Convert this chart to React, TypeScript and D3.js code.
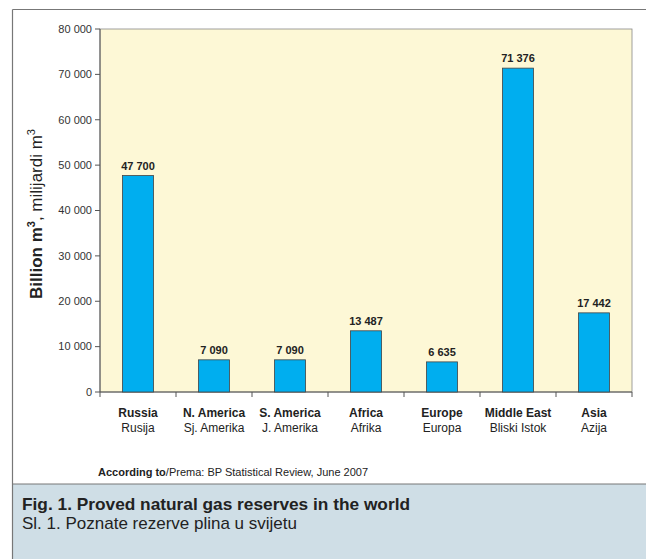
import React from "react";
import * as d3 from "d3";

const categories = ["Russia", "N. America", "S. America", "Africa", "Europe", "Middle East", "Asia"];
const subLabels = ["Rusija", "Sj. Amerika", "J. Amerika", "Afrika", "Europa", "Bliski Istok", "Azija"];
const values = [47700, 7090, 7090, 13487, 6635, 71376, 17442];
const valueLabels = ["47 700", "7 090", "7 090", "13 487", "6 635", "71 376", "17 442"];
const yTicks = [0, 10000, 20000, 30000, 40000, 50000, 60000, 70000, 80000];

const W = 646, H = 559;
const plot = { left: 100, right: 632, top: 29, bottom: 392 };
const narrow = "'Liberation Sans Narrow', 'Arial Narrow', 'Liberation Sans', Arial, sans-serif";
const sans = "'Liberation Sans', Arial, Helvetica, sans-serif";

export default function App() {
  const x = d3.scaleBand<string>().domain(categories).range([plot.left, plot.right]).paddingInner(0.59).paddingOuter(0.295);
  const xb = d3.scaleBand<string>().domain(categories).range([plot.left, plot.right]);
  const y = d3.scaleLinear().domain([0, 80000]).range([plot.bottom, plot.top]);
  const fmt = (v: number) => d3.format(",")(v).replace(/,/g, " ");

  return (
    <svg width={W} height={H} style={{ position: "absolute", left: 0, top: 0, background: "#fff" }}>
      <rect x={0} y={0} width={W} height={H} fill="#fff" />
      {/* caption box */}
      <rect x={12.5} y={484} width={W} height={H - 484} fill="#cfdee6" />
      <line x1={12.5} x2={W} y1={484} y2={484} stroke="#777" strokeWidth={1} />
      {/* outer border */}
      <line x1={12.5} x2={W} y1={9.5} y2={9.5} stroke="#777" strokeWidth={1.2} />
      <line x1={12.5} x2={12.5} y1={9.5} y2={H} stroke="#777" strokeWidth={1.2} />

      {/* plot background */}
      <rect x={plot.left} y={plot.top} width={plot.right - plot.left} height={plot.bottom - plot.top} fill="#fdf8d6" stroke="#888" strokeWidth={0.8} />

      {/* y axis */}
      <line x1={plot.left} x2={plot.left} y1={plot.top} y2={plot.bottom} stroke="#555" strokeWidth={1} />
      {yTicks.map((t) => (
        <g key={t}>
          <line x1={plot.left - 5} x2={plot.left} y1={y(t)} y2={y(t)} stroke="#555" strokeWidth={1} />
          <text x={plot.left - 8} y={y(t)} dy="0.35em" textAnchor="end" fontFamily={narrow} fontSize={11} fill="#333">
            {fmt(t)}
          </text>
        </g>
      ))}

      {/* x axis */}
      <line x1={plot.left} x2={plot.right} y1={plot.bottom} y2={plot.bottom} stroke="#555" strokeWidth={1} />
      {[...categories.map((c) => xb(c) as number), plot.right].map((px, i) => (
        <line key={i} x1={px} x2={px} y1={plot.bottom} y2={plot.bottom + 5} stroke="#555" strokeWidth={1} />
      ))}

      {/* bars */}
      {categories.map((c, i) => (
        <g key={c}>
          <rect x={x(c)} y={y(values[i])} width={x.bandwidth()} height={plot.bottom - y(values[i])} fill="#00aeef" stroke="#444" strokeWidth={0.8} />
          <text x={(x(c) as number) + x.bandwidth() / 2} y={y(values[i]) - 6} textAnchor="middle" fontFamily={narrow} fontWeight="bold" fontSize={11} fill="#222">
            {valueLabels[i]}
          </text>
          <text x={(xb(c) as number) + xb.bandwidth() / 2} y={417} textAnchor="middle" fontFamily={sans} fontWeight="bold" fontSize={12} fill="#222">
            {c}
          </text>
          <text x={(xb(c) as number) + xb.bandwidth() / 2} y={432} textAnchor="middle" fontFamily={sans} fontSize={12} fill="#222">
            {subLabels[i]}
          </text>
        </g>
      ))}

      {/* y axis title */}
      <text transform={`translate(42, 214) rotate(-90)`} textAnchor="middle" fontFamily={sans} fontSize={17} fill="#222">
        <tspan fontWeight="bold">Billion m</tspan>
        <tspan fontWeight="bold" fontSize={11} dy={-7}>3</tspan>
        <tspan dy={7}>, milijardi m</tspan>
        <tspan fontSize={11} dy={-7}>3</tspan>
      </text>

      {/* source */}
      <text x={98} y={476} fontFamily={narrow} fontSize={11} fill="#222">
        <tspan fontWeight="bold">According to</tspan>
        <tspan>/Prema: BP Statistical Review, June 2007</tspan>
      </text>

      {/* caption */}
      <text x={22} y={510} fontFamily={sans} fontWeight="bold" fontSize={17.3} fill="#222">
        Fig. 1. Proved natural gas reserves in the world
      </text>
      <text x={22} y={529} fontFamily={sans} fontSize={17} fill="#222">
        Sl. 1. Poznate rezerve plina u svijetu
      </text>
    </svg>
  );
}
